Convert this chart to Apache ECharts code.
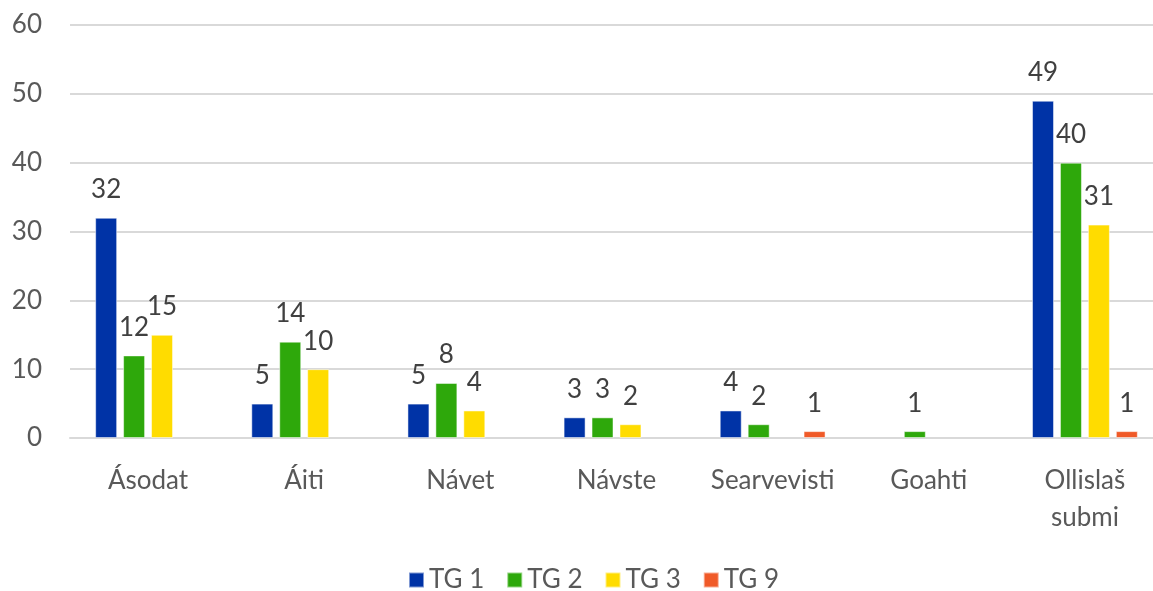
<!DOCTYPE html>
<html>
<head>
<meta charset="utf-8">
<script src="https://cdn.jsdelivr.net/npm/echarts@6/dist/echarts.min.js"></script>
<style>
  html, body { margin: 0; padding: 0; background: #fff; overflow: hidden; }
  #chart { width: 1163px; height: 591px; }
</style>
</head>
<body>
<div id="chart"></div>
<script>
var categories = ['Ásodat', 'Áiti', 'Návet', 'Návste', 'Searvevisti', 'Goahti', 'Ollislaš\nsubmi'];
var tg1 = [32, 5, 5, 3, 4, null, 49];
var tg2 = [12, 14, 8, 3, 2, 1, 40];
var tg3 = [15, 10, 4, 2, null, null, 31];
var tg9 = [null, null, null, null, 1, null, 1];
var yTicks = [0, 10, 20, 30, 40, 50, 60];

var font = 'Lato';
var fs = 26;
var myChart = echarts.init(document.getElementById('chart'));

function bar(name, data, color){
  return {
    name: name,
    type: 'bar',
    data: data,
    barWidth: 22,
    barGap: '27%',
    itemStyle: { color: color, borderColor: 'rgba(255,255,255,0.5)', borderWidth: 1 },
    label: {
      show: true,
      position: 'top',
      distance: 15,
      color: '#404040',
      fontSize: fs,
      fontFamily: font
    }
  };
}

var option = {
  animation: false,
  backgroundColor: '#fff',
  grid: { left: 70, right: 0, top: 25, bottom: 153 },
  legend: {
    top: 562,
    left: 403,
    itemWidth: 15,
    itemHeight: 15,
    itemGap: 22,
    icon: 'rect',
    textStyle: { color: '#595959', fontSize: fs, fontFamily: font }
  },
  xAxis: {
    type: 'category',
    data: categories,
    axisTick: { show: false },
    axisLine: { lineStyle: { color: '#d9d9d9', width: 2 } },
    axisLabel: { interval: 0, color: '#595959', fontSize: fs, fontFamily: font, margin: 24, lineHeight: 37 }
  },
  yAxis: {
    type: 'value',
    min: yTicks[0],
    max: yTicks[yTicks.length - 1],
    interval: 10,
    axisLine: { show: false },
    axisTick: { show: false },
    splitLine: { lineStyle: { color: '#d9d9d9', width: 2 } },
    axisLabel: { color: '#595959', fontSize: fs, fontFamily: font, margin: 28 }
  },
  series: [
    bar('TG 1', tg1, '#0033a6'),
    bar('TG 2', tg2, '#2ea80b'),
    bar('TG 3', tg3, '#ffdc00'),
    bar('TG 9', tg9, '#f05a28')
  ]
};
myChart.setOption(option);
</script>
</body>
</html>
